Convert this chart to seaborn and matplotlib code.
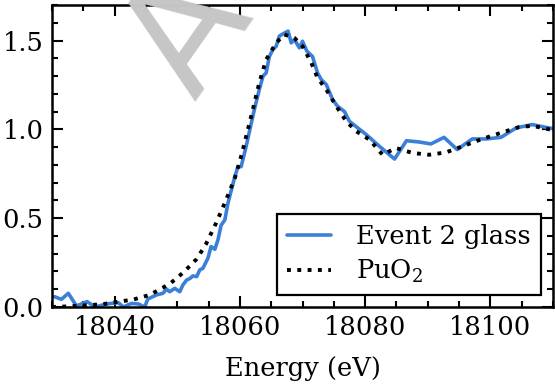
import numpy as np
import pandas as pd
import matplotlib
matplotlib.use("Agg")
import matplotlib.pyplot as plt
import seaborn as sns
from matplotlib.ticker import MultipleLocator

# =====================================================================
# DATA
# =====================================================================
glass_energy = [18030.4, 18031.5, 18032.6, 18033.9, 18035.6, 18036.9, 18038.7, 18040.6,
                18041.4, 18042.7, 18043.8, 18044.8, 18045.3, 18046.7, 18047.7, 18048.3,
                18048.8, 18049.6, 18050.4, 18050.9, 18051.5, 18052.0, 18052.5, 18053.1,
                18053.6, 18054.1, 18054.9, 18055.4, 18056.0, 18056.5, 18057.0, 18057.6,
                18058.1, 18059.2, 18059.7, 18060.2, 18061.0, 18061.6, 18062.3, 18063.1,
                18063.7, 18064.2, 18064.7, 18065.3, 18065.8, 18066.3, 18067.0, 18067.7,
                18068.2, 18068.7, 18069.5, 18070.0, 18070.7, 18071.6, 18072.4, 18073.0,
                18073.8, 18074.8, 18075.6, 18076.7, 18077.5, 18080.2, 18082.3, 18084.7,
                18086.6, 18088.6, 18090.5, 18092.6, 18094.7, 18097.1, 18099.3, 18101.7,
                18104.1, 18106.7, 18108.6, 18110.0]
glass_mu = [0.058, 0.043, 0.077, 0.006, 0.030, 0.000, 0.017, 0.024,
            0.000, 0.020, 0.017, 0.000, 0.045, 0.068, 0.077, 0.100,
            0.086, 0.105, 0.086, 0.124, 0.152, 0.160, 0.175, 0.171,
            0.209, 0.218, 0.275, 0.340, 0.325, 0.378, 0.460, 0.490,
            0.585, 0.735, 0.790, 0.790, 0.904, 1.000, 1.110, 1.224,
            1.300, 1.318, 1.410, 1.450, 1.468, 1.525, 1.540, 1.553,
            1.487, 1.506, 1.459, 1.496, 1.440, 1.410, 1.318, 1.280,
            1.252, 1.168, 1.130, 1.100, 1.045, 0.970, 0.904, 0.833,
            0.936, 0.929, 0.918, 0.955, 0.886, 0.946, 0.946, 0.955,
            1.008, 1.027, 1.013, 1.004]

puo2_energy = [18030.0, 18033.0, 18036.0, 18038.0, 18040.3, 18043.0, 18045.6, 18048.8,
               18051.0, 18053.1, 18054.6, 18056.2, 18057.8, 18059.2, 18060.3, 18061.8,
               18063.1, 18064.2, 18065.8, 18067.1, 18068.7, 18070.0, 18071.4, 18072.4,
               18073.8, 18075.4, 18077.0, 18078.6, 18080.7, 18082.8, 18084.9, 18087.6,
               18090.2, 18092.9, 18095.5, 18098.7, 18101.9, 18104.6, 18106.7, 18109.4,
               18110.0]
puo2_mu = [0.000, 0.004, 0.011, 0.015, 0.028, 0.042, 0.068, 0.130,
           0.195, 0.270, 0.355, 0.472, 0.603, 0.726, 0.860, 1.073,
           1.262, 1.393, 1.487, 1.534, 1.515, 1.468, 1.375, 1.290,
           1.224, 1.130, 1.045, 0.989, 0.942, 0.857, 0.895, 0.867,
           0.857, 0.870, 0.904, 0.946, 0.983, 1.013, 1.020, 1.000,
           0.998]

glass_label = "Event 2 glass"
puo2_label = "PuO$_2$"
xticks = [18040, 18060, 18080, 18100]
yticks = [0.0, 0.5, 1.0, 1.5]

# =====================================================================
# STYLE
# =====================================================================
sns.set_style("ticks")
plt.rcParams['font.family'] = ['DejaVu Serif']
plt.rcParams['mathtext.fontset'] = 'dejavuserif'
fs = 18.5
for k in ['text.color', 'axes.labelcolor', 'xtick.color', 'ytick.color', 'axes.edgecolor']:
    plt.rcParams[k] = 'black'

df_glass = pd.DataFrame({'Energy': glass_energy, 'mu': glass_mu})
df_puo2 = pd.DataFrame({'Energy': puo2_energy, 'mu': puo2_mu})

fig = plt.figure(figsize=(5.55, 3.86), dpi=100)
ax = fig.add_axes([0.0937, 0.2047, 0.9027, 0.7823])

# faint grey watermark behind the data (clipped by the top edge, as in the source)
fig.text(0.352, 0.735, "AC", fontsize=110, color='#c6c6c6', family='DejaVu Sans',
         rotation=55, rotation_mode='anchor', ha='left', va='baseline', zorder=0)

sns.lineplot(data=df_glass, x='Energy', y='mu', ax=ax, color='#3a7fd8', lw=2.6,
             label=glass_label, estimator=None, sort=False)
sns.lineplot(data=df_puo2, x='Energy', y='mu', ax=ax, color='black', lw=2.8,
             linestyle=':', label=puo2_label, estimator=None, sort=False)

ax.set_xlim(18030, 18110)
ax.set_ylim(0, 1.7)
ax.set_xlabel("Energy (eV)", fontsize=fs, labelpad=11)
ax.set_ylabel("")
ax.set_xticks(xticks)
ax.set_yticks(yticks)
ax.xaxis.set_minor_locator(MultipleLocator(5))
ax.yaxis.set_minor_locator(MultipleLocator(0.1))
ax.tick_params(which='both', direction='in', top=True, right=True, width=1.5)
ax.tick_params(which='major', length=8, labelsize=fs, pad=6)
ax.tick_params(which='minor', length=4.5)
for s in ax.spines.values():
    s.set_linewidth(1.8)
ax.patch.set_alpha(0)

leg = ax.legend(loc='lower right', fancybox=False, edgecolor='black', framealpha=1,
                fontsize=fs, handlelength=1.7, borderaxespad=0.45, labelspacing=0.35,
                handletextpad=1.0)
leg.get_frame().set_linewidth(1.6)

fig.savefig("out.png", dpi=100)
